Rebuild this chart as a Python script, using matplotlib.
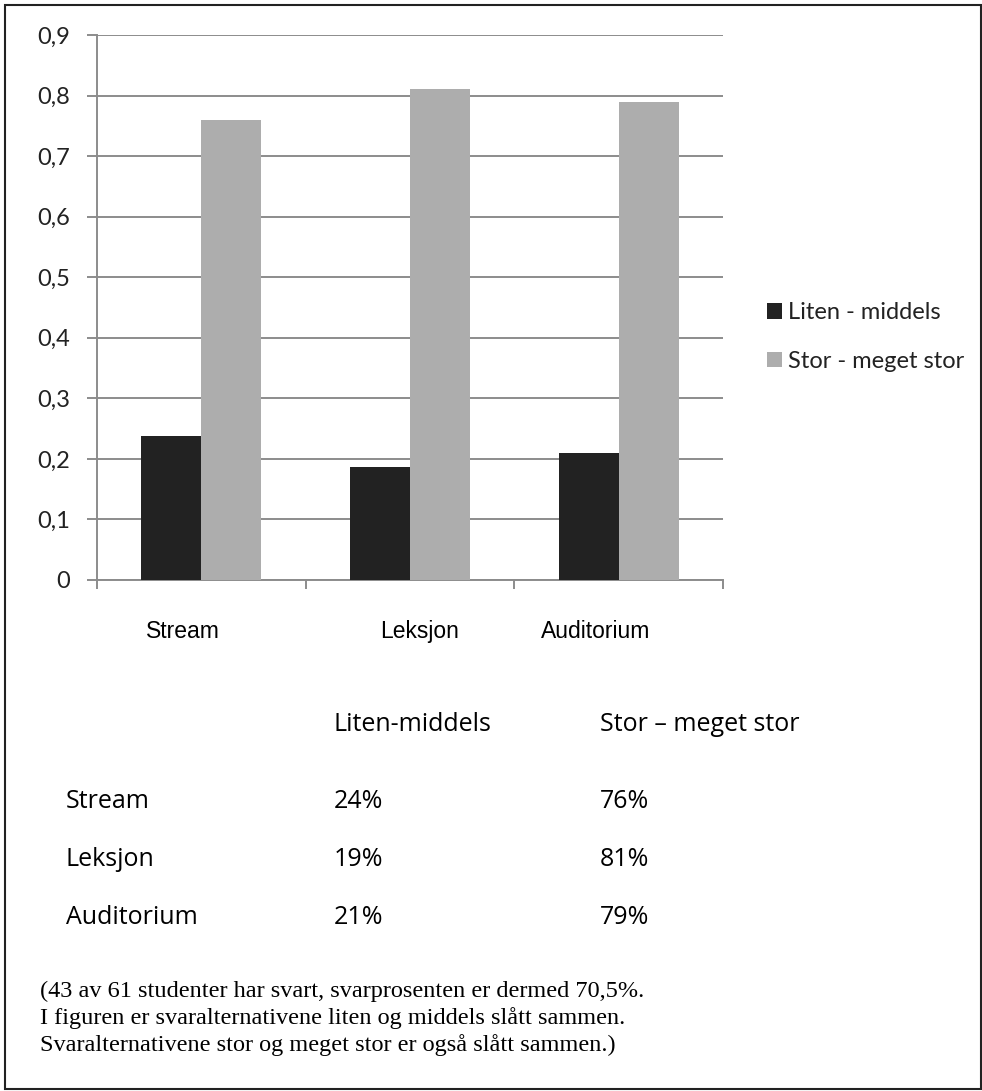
import numpy as np
import matplotlib
matplotlib.use('Agg')
import matplotlib.pyplot as plt
from matplotlib.patches import Rectangle

categories = ['Stream', 'Leksjon', 'Auditorium']
liten = [0.237, 0.187, 0.209]
stor = [0.76, 0.811, 0.79]
series_names = ['Liten - middels', 'Stor - meget stor']
yticks = [0, 0.1, 0.2, 0.3, 0.4, 0.5, 0.6, 0.7, 0.8, 0.9]

table_header = ['Liten-middels', 'Stor \u2013 meget stor']
table_liten = ['24%', '19%', '21%']
table_stor = ['76%', '81%', '79%']
note_lines = ['(43 av 61 studenter har svart, svarprosenten er dermed 70,5%.',
              'I figuren er svaralternativene liten og middels sl\u00e5tt sammen.',
              'Svaralternativene stor og meget stor er ogs\u00e5 sl\u00e5tt sammen.)']

W, H = 982, 1091
fig = plt.figure(figsize=(W / 100, H / 100), dpi=100)

def fx(px):
    return px / W

def fy(py):
    return 1 - py / H

ax = fig.add_axes([fx(97), fy(580), fx(723) - fx(97), fy(35) - fy(580)])

grid_c = '#8c8c8c'
x = np.arange(len(categories))
bw = 0.287
ax.bar(x - bw / 2, liten, bw, color='#222222', label=series_names[0], zorder=3)
ax.bar(x + bw / 2, stor, bw, color='#adadad', label=series_names[1], zorder=3)

ax.set_xlim(-0.5, len(categories) - 0.5)
ax.set_ylim(0, 0.9)
ax.set_yticks(yticks)
ax.set_yticklabels([('%g' % t).replace('.', ',') for t in yticks],
                   fontsize=17, color='#222222', family='Lato')
ax.yaxis.grid(True, color=grid_c, lw=1.4, zorder=0)
ax.tick_params(axis='y', length=7.2, color=grid_c, width=1.4, pad=12)

ax.set_xticks(np.arange(len(categories) + 1) - 0.5)
ax.set_xticklabels([])
ax.tick_params(axis='x', length=6.5, color=grid_c, width=1.4, direction='out')

# category labels sit a bit off-centre in the original
label_shift = [-0.09, 0.045, -0.11]
for i, c in enumerate(categories):
    ax.text(i + label_shift[i], -0.096, c, ha='center', va='baseline',
            fontsize=16.5, family='Liberation Sans', clip_on=False)

for s in ['top', 'right']:
    ax.spines[s].set_visible(False)
for s in ['left', 'bottom']:
    ax.spines[s].set_color(grid_c)
    ax.spines[s].set_linewidth(1.4)

fig.legend(loc='center left', bbox_to_anchor=(fx(767), fy(337)), frameon=False,
           borderpad=0, borderaxespad=0, prop={'family': 'Lato', 'size': 17},
           handlelength=0.62, handleheight=0.62, handletextpad=0.25,
           labelspacing=1.15, labelcolor='#222222')

tf = 'Open Sans'
fs = 18
col1, col2 = 334, 600
fig.text(fx(col1), fy(731), table_header[0], fontsize=fs, family=tf, va='baseline')
fig.text(fx(col2), fy(731), table_header[1], fontsize=fs, family=tf, va='baseline')
for i, c in enumerate(categories):
    yy = 808 + 58 * i
    fig.text(fx(66), fy(yy), c, fontsize=fs, family=tf, va='baseline')
    fig.text(fx(col1), fy(yy), table_liten[i], fontsize=fs, family=tf, va='baseline')
    fig.text(fx(col2), fy(yy), table_stor[i], fontsize=fs, family=tf, va='baseline')

for i, line in enumerate(note_lines):
    fig.text(fx(40), fy(997 + 27 * i), line, fontsize=17.5,
             family='Liberation Serif', va='baseline')

fig.patches.append(Rectangle((fx(5), fy(1089)), fx(981) - fx(5), fy(5) - fy(1089),
                             transform=fig.transFigure, fill=False,
                             edgecolor='#222222', lw=1.5))

fig.savefig('out.png', dpi=100)
